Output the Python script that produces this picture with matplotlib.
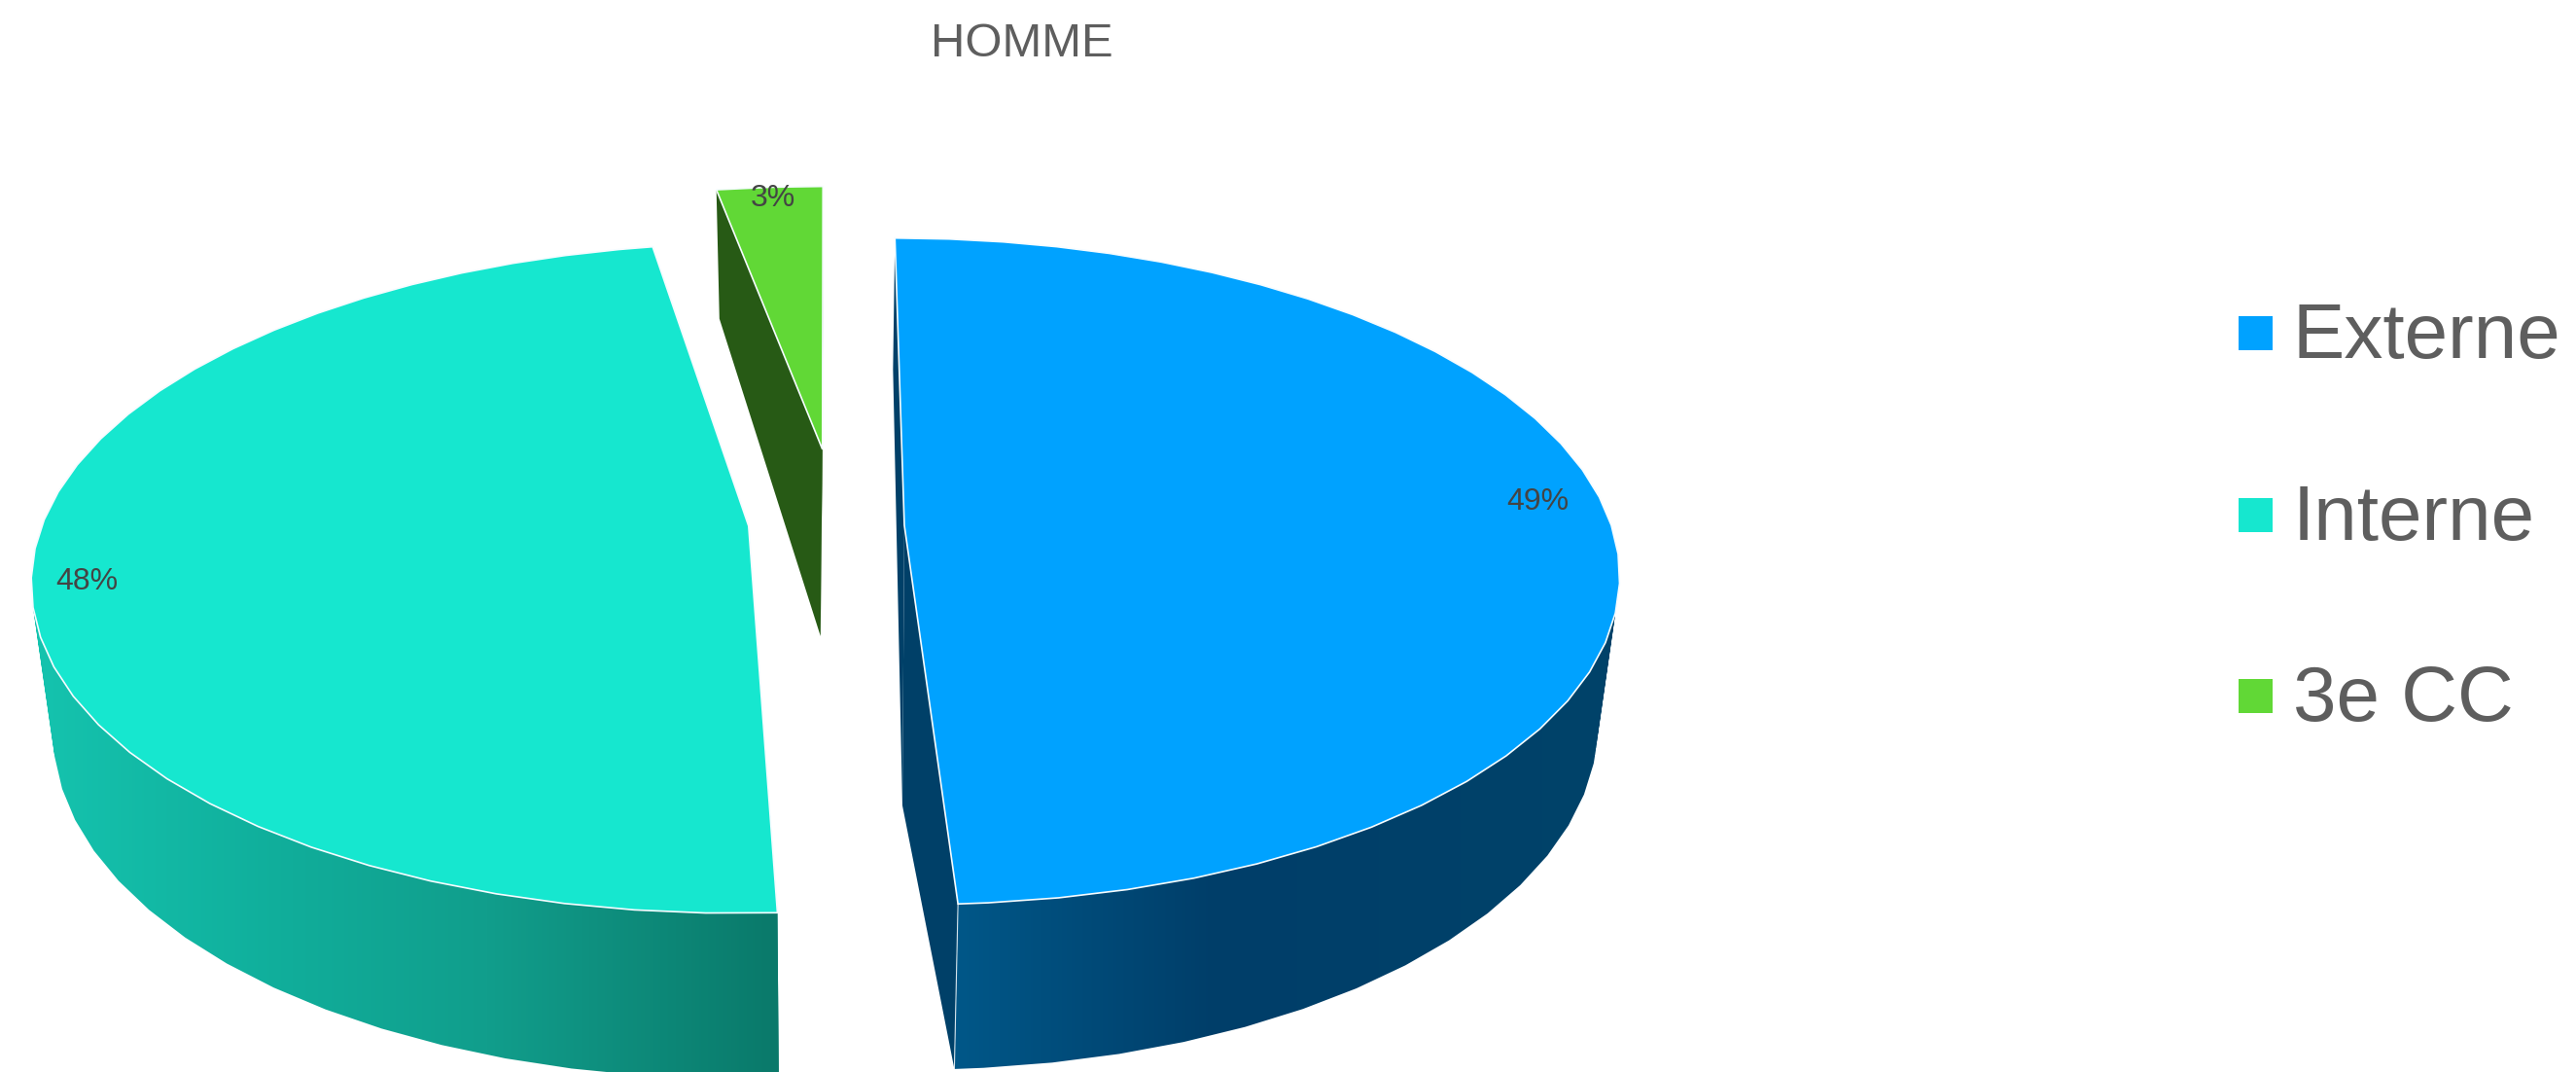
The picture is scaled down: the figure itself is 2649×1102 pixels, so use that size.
import numpy as np
import matplotlib
matplotlib.use("Agg")
import matplotlib.pyplot as plt
from matplotlib.patches import Polygon, Rectangle, PathPatch
from matplotlib.path import Path

plt.rcParams['font.family'] = ['Liberation Sans', 'DejaVu Sans']

# data
categories = ['Externe', 'Interne', '3e CC']
shares = [49.2, 48.1, 2.7]
title = 'HOMME'

# style
top_colors = ['#00A2FF', '#16E7CF', '#61D836']
inner_colors = ['#004068', '#0B7A6B', '#275A15']
wall_stops_x = [[985, 1250, 1670], [30, 300, 500, 800], [730, 850]]
wall_stops_rgb = [
    [(0x00, 0x57, 0x88), (0x00, 0x3E, 0x69), (0x00, 0x43, 0x69)],
    [(0x15, 0xC4, 0xAF), (0x10, 0xAD, 0x9A), (0x11, 0x9E, 0x8C), (0x0A, 0x79, 0x6A)],
    [(0x27, 0x5A, 0x15), (0x27, 0x5A, 0x15)],
]
explode = [(0.11, 0.0), (-0.11, -0.02), (-0.006, 0.24)]
radius_x = [1.0, 1.0, 1.04]
radius_y = [1.0, 1.0, 0.97]
apex_shift = [0, -6, 0]
apex_depth = [288, 288, 192]
label_pos = [(1581, 524), (89, 606), (795, 212)]
text_grey = '#5E5E5E'
label_grey = '#444444'

W, H = 2649, 1102
fig = plt.figure(figsize=(W / 100, H / 100), dpi=100, facecolor='white')
ax = fig.add_axes([0, 0, 1, 1])
ax.set_xlim(0, W)
ax.set_ylim(H, 0)
ax.axis('off')

K = 0.138
X0 = 850.0
TOP = dict(y0=540.0, rx=727.0, ry=336.0)
LOW = dict(y0=690.0, rx=707.0, ry=353.0)


def project(wx, wy, plane):
    w = 1 + K * wy
    return X0 + plane['rx'] * wx / w, plane['y0'] - plane['ry'] * wy / w


def rim(t1, t2, ex, ey, rx, ry, plane, step=5.0):
    t = np.arange(t1, t2, step)
    t = np.append(t, t2)
    r = np.radians(t)
    return t, np.column_stack(project(ex + rx * np.sin(r), ey + ry * np.cos(r), plane))


def signed_area(q):
    x, y = np.asarray(q).T
    return 0.5 * np.sum(x * np.roll(y, -1) - np.roll(x, -1) * y)


edges = np.concatenate([[0], np.cumsum(shares)]) / np.sum(shares) * 360.0

for i, cat in enumerate(categories):
    t1, t2 = edges[i], edges[i + 1]
    ex, ey = explode[i]
    t, top = rim(t1, t2, ex, ey, radius_x[i], radius_y[i], TOP)
    _, low = rim(t1, t2, ex, ey, radius_x[i], radius_y[i], LOW)
    ax_top = np.array(project(ex, ey, TOP)) + np.array([0.0, apex_shift[i]])
    ax_low = ax_top + np.array([-2.0, apex_depth[i]])

    # inner cut walls
    for a in (0, -1):
        ax.add_patch(Polygon([top[a], ax_top, ax_low, low[a]], closed=True,
                             fc=inner_colors[i], ec='none', zorder=1))

    # outer wall: union of the front-facing facets, gradient-filled
    front = np.where(np.cos(np.radians(t)) < 0.15)[0]
    verts, codes = [], []
    for j in front:
        if j + 1 >= len(t):
            continue
        quad = [top[j], top[j + 1], low[j + 1], low[j]]
        if signed_area(quad) < 0:
            quad = quad[::-1]
        verts += quad + [quad[0]]
        codes += [Path.MOVETO, Path.LINETO, Path.LINETO, Path.LINETO, Path.CLOSEPOLY]
    if verts:
        path = Path(np.array(verts), codes)
        xs = np.arange(0, W)
        stops = np.array(wall_stops_rgb[i], float) / 255
        grad = np.stack([np.interp(xs, wall_stops_x[i], stops[:, c]) for c in range(3)], axis=-1)
        im = ax.imshow(grad[None, :, :], extent=(0, W, H, 0), aspect='auto',
                       interpolation='nearest', zorder=2)
        im.set_clip_path(PathPatch(path, transform=ax.transData))
        if i == 0:
            ax.plot([top[-1][0], low[-1][0]], [top[-1][1], low[-1][1]],
                    color='white', lw=0.8, alpha=0.8, zorder=3)

    # top surface
    poly = np.vstack([top, ax_top])
    ax.add_patch(Polygon(poly, closed=True, fc=top_colors[i], ec='#F6FCFF', lw=1.2,
                         joinstyle='miter', zorder=4))

    lx, ly = label_pos[i]
    ax.text(lx, ly, f'{shares[i]:.0f}%', ha='center', va='baseline', fontsize=23,
            color=label_grey, zorder=6)

ax.set_xlim(0, W)
ax.set_ylim(H, 0)

ax.text(1051, 58, title, ha='center', va='baseline', fontsize=35.3, color=text_grey)

legend_y = [325, 512, 698]
for i, cat in enumerate(categories):
    y = legend_y[i]
    ax.add_patch(Rectangle((2302, y), 35, 35, fc=top_colors[i], ec='none', zorder=5))
    ax.text(2358, y + 43, cat, ha='left', va='baseline', fontsize=57.6, color=text_grey)

fig.savefig('out.png', dpi=100, facecolor='white')
